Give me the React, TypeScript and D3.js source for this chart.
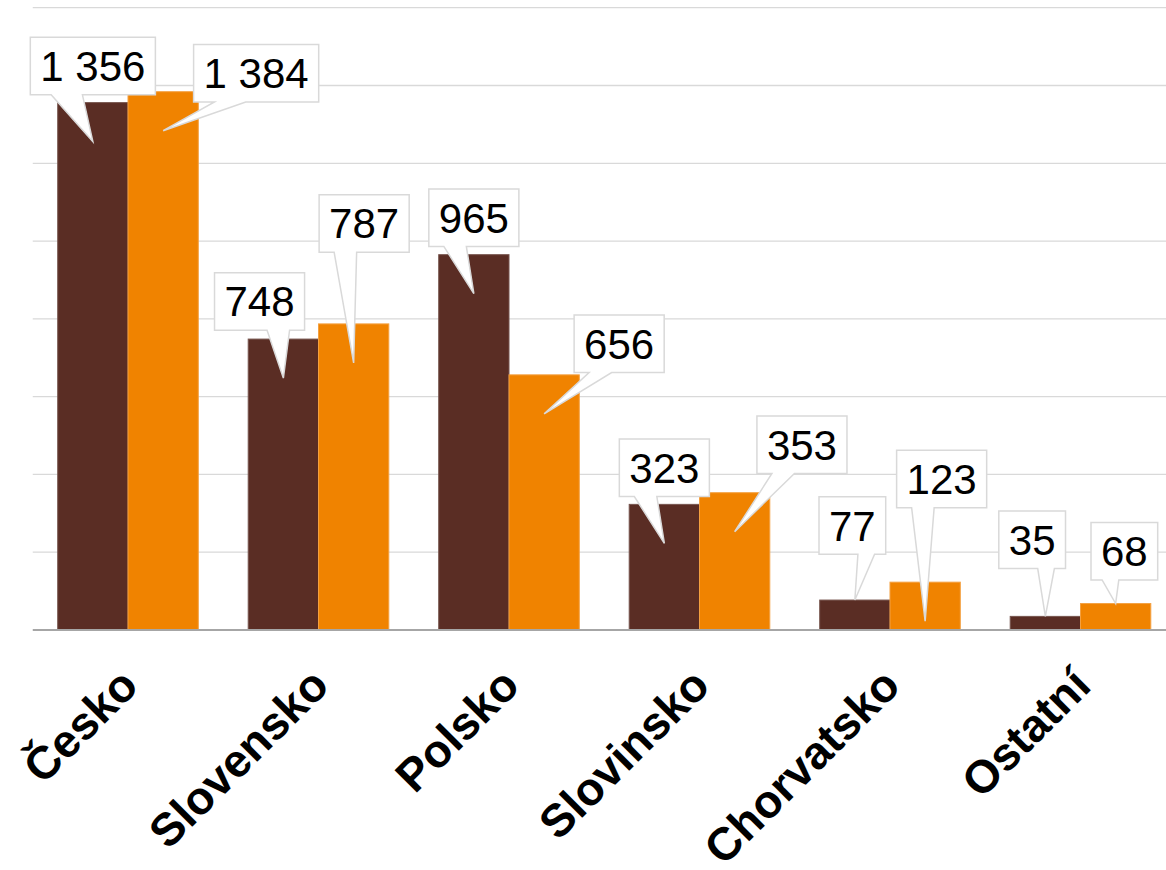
import React from "react";
import * as d3 from "d3";

const categories = ["Česko", "Slovensko", "Polsko", "Slovinsko", "Chorvatsko", "Ostatní"];
const seriesA = [1356, 748, 965, 323, 77, 35];
const seriesB = [1384, 787, 656, 353, 123, 68];
const yTicks = [0, 200, 400, 600, 800, 1000, 1200, 1400, 1600];

// layout: callout box centre relative to its pointer tip
const calloutOffsetsA = [[0, -75.5], [-23.8, -76.6], [0, -76], [0, -75.6], [-2.5, -74.5], [-13.2, -76.6]];
const calloutOffsetsB = [[93, -57.5], [10.5, -139.5], [75, -70], [67.3, -87], [16.5, -142.2], [8.7, -52.4]];

const W = 1166;
const H = 870;
const COLORS = ["#5a2d24", "#f08300"];
const STROKES = ["#77554e", "#f4a040"];
const LABEL_FS = 42;
const AXIS_FS = 46;
const FONT = "'Liberation Sans', Arial, sans-serif";

const fmt = d3.formatLocale({ decimal: ",", thousands: " ", grouping: [3], currency: ["", ""] }).format(",");

function textWidth(s: string, fs: number) {
  let w = 0;
  for (const ch of s) w += ch === " " ? 0.278 : 0.556;
  return w * fs;
}

function calloutPath(l: number, t: number, w: number, h: number, xPos: number, yPos: number) {
  const r = l + w, b = t + h;
  const hc = l + w / 2, vc = t + h / 2;
  const dxPos = xPos - hc, dyPos = yPos - vc;
  const dq = (dxPos * h) / w;
  const dz = Math.abs(dyPos) - Math.abs(dq);
  const xg1 = dxPos > 0 ? 7 : 2, xg2 = dxPos > 0 ? 10 : 5;
  const yg1 = dyPos > 0 ? 7 : 2, yg2 = dyPos > 0 ? 10 : 5;
  const x1 = l + (w * xg1) / 12, x2 = l + (w * xg2) / 12;
  const y1 = t + (h * yg1) / 12, y2 = t + (h * yg2) / 12;
  const p = d3.path();
  if (dz > 0) {
    if (dyPos < 0) {
      p.moveTo(l, t); p.lineTo(x1, t); p.lineTo(xPos, yPos); p.lineTo(x2, t); p.lineTo(r, t);
      p.lineTo(r, b); p.lineTo(l, b); p.closePath();
    } else {
      p.moveTo(l, t); p.lineTo(r, t); p.lineTo(r, b); p.lineTo(x2, b); p.lineTo(xPos, yPos);
      p.lineTo(x1, b); p.lineTo(l, b); p.closePath();
    }
  } else {
    if (dxPos < 0) {
      p.moveTo(l, t); p.lineTo(r, t); p.lineTo(r, b); p.lineTo(l, b); p.lineTo(l, y2);
      p.lineTo(xPos, yPos); p.lineTo(l, y1); p.closePath();
    } else {
      p.moveTo(l, t); p.lineTo(r, t); p.lineTo(r, y1); p.lineTo(xPos, yPos); p.lineTo(r, y2);
      p.lineTo(r, b); p.lineTo(l, b); p.closePath();
    }
  }
  return p.toString();
}

export default function App() {
  const x0 = d3.scaleBand<string>().domain(categories).range([32.75, 1175.75]).paddingInner(0.262).paddingOuter(0.131);
  const x1 = d3.scaleBand<number>().domain([0, 1]).range([0, x0.bandwidth()]);
  const y = d3.scaleLinear().domain([0, 1600]).range([630, 7.7]);
  const series = [seriesA, seriesB];
  const offsets = [calloutOffsetsA, calloutOffsetsB];

  const bars: any[] = [];
  const callouts: any[] = [];
  categories.forEach((c, i) => {
    series.forEach((s, si) => {
      const v = s[i];
      const bx = (x0(c) as number) + (x1(si) as number);
      const bw = x1.bandwidth();
      const top = y(v);
      const hgt = y(0) - top;
      bars.push(
        <rect key={`b${i}-${si}`} x={bx} y={top} width={bw} height={hgt} fill={COLORS[si]} stroke={STROKES[si]} strokeWidth={1} />
      );
      const tipX = bx + bw / 2;
      const tipY = hgt > 40 ? top + 39 : top;
      const label = fmt(v);
      const tw = textWidth(label, LABEL_FS);
      const bwid = tw + 20;
      const bh = 57.5;
      const [ox, oy] = offsets[si][i];
      const cx = tipX + ox, cy = tipY + oy;
      const l = cx - bwid / 2, t = cy - bh / 2;
      callouts.push(
        <g key={`c${i}-${si}`}>
          <path d={calloutPath(l, t, bwid, bh, tipX, tipY)} fill="#ffffff" stroke="#d9d9d9" strokeWidth={1.5} strokeLinejoin="miter" />
          <text x={cx} y={cy + 15} textAnchor="middle" fontFamily={FONT} fontSize={LABEL_FS} fill="#000">{label}</text>
        </g>
      );
    });
  });

  return (
    <svg width={W} height={H} style={{ position: "absolute", left: 0, top: 0, background: "#fff" }}>
      <rect x={0} y={0} width={W} height={H} fill="#fff" />
      {yTicks.filter((t) => t > 0).map((t) => (
        <line key={t} x1={32.75} x2={W} y1={y(t)} y2={y(t)} stroke="#d9d9d9" strokeWidth={1.3} />
      ))}
      {bars}
      <line x1={32.75} x2={W} y1={y(0)} y2={y(0)} stroke="#a6a6a6" strokeWidth={1.8} />
      {callouts}
      {categories.map((c) => {
        const px = (x0(c) as number) + x0.bandwidth() / 2 + 12.5;
        const py = 688;
        return (
          <text key={c} x={px} y={py} transform={`rotate(-45 ${px} ${py})`} textAnchor="end" fontFamily={FONT} fontWeight="bold" fontSize={AXIS_FS} fill="#000">
            {c}
          </text>
        );
      })}
    </svg>
  );
}
